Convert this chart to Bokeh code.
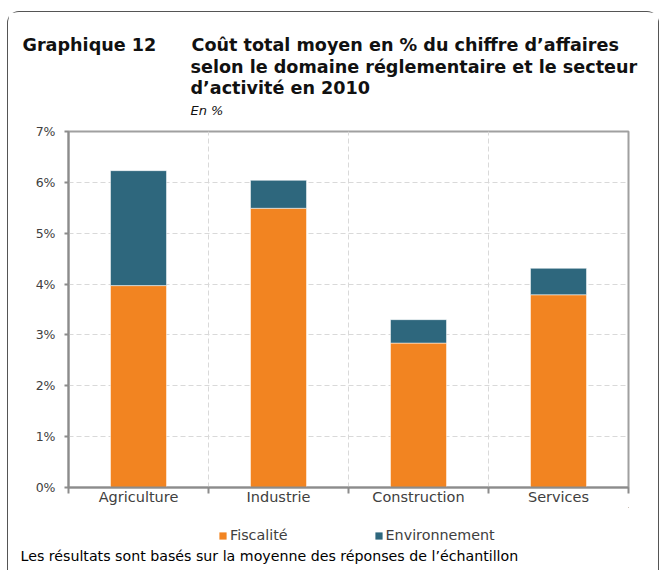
from bokeh.plotting import figure
from bokeh.layouts import column
from bokeh.models import (Range1d, FixedTicker, Legend, LegendItem, Title,
                          CustomJSTickFormatter)
from bokeh.embed import file_html
from bokeh.resources import INLINE

categories = ["Agriculture", "Industrie", "Construction", "Services"]
fiscalite = [3.97, 5.49, 2.84, 3.79]
environnement = [2.26, 0.55, 0.46, 0.52]
y_ticks = [0, 1, 2, 3, 4, 5, 6, 7]
series_names = ["Fiscalité", "Environnement"]
colors = ["#F28421", "#2E677D"]

FONT = "DejaVu Sans"
AXIS_GRAY = "#8c8c8c"

xs = [i + 0.5 for i in range(len(categories))]
source = dict(x=xs, Fiscalite=fiscalite, Environnement=environnement)

# ---------------- main chart ----------------
p = figure(width=650, height=495, output_backend="svg", toolbar_location=None,
           x_range=Range1d(0, len(categories)), y_range=Range1d(0, 7),
           min_border_left=60, min_border_right=30, min_border_top=119,
           min_border_bottom=19)

p.vbar_stack(["Fiscalite", "Environnement"], x="x", width=0.4, source=source,
             color=colors, line_color="white", line_alpha=0.5, line_width=1)

xax = p.xaxis[0]
xax.ticker = FixedTicker(ticks=xs, minor_ticks=list(range(len(categories) + 1)))
xax.major_label_overrides = {x: c for x, c in zip(xs, categories)}
xax.major_tick_out = 0
xax.major_tick_in = 0
xax.minor_tick_out = 6
xax.minor_tick_in = 0
xax.minor_tick_line_color = AXIS_GRAY
xax.minor_tick_line_width = 2
xax.axis_line_color = AXIS_GRAY
xax.axis_line_width = 2
xax.major_label_text_font = FONT
xax.major_label_text_font_size = "14.5px"
xax.major_label_text_color = "#404040"
xax.major_label_standoff = -5

yax = p.yaxis[0]
yax.ticker = FixedTicker(ticks=y_ticks)
yax.formatter = CustomJSTickFormatter(code="return tick.toFixed(0) + '%';")
yax.major_tick_out = 4
yax.major_tick_in = 0
yax.minor_tick_out = 0
yax.minor_tick_in = 0
yax.major_tick_line_color = AXIS_GRAY
yax.major_tick_line_width = 2
yax.axis_line_color = AXIS_GRAY
yax.axis_line_width = 2
yax.major_label_text_font = FONT
yax.major_label_text_font_size = "12.5px"
yax.major_label_text_color = "#404040"
yax.major_label_standoff = 9

p.xgrid.ticker = FixedTicker(ticks=[1, 2, 3])
p.xgrid.grid_line_color = "#d9d9d9"
p.xgrid.grid_line_dash = "5 3"
p.ygrid.grid_line_color = "#d9d9d9"
p.ygrid.grid_line_dash = "5 3"

p.outline_line_color = "#a0a0a0"
p.outline_line_width = 2


def title(text, size, style, offset, standoff, color="#111111"):
    return Title(text=text, align="left", offset=offset, text_font=FONT,
                 text_font_size=size, text_font_style=style, text_color=color,
                 standoff=standoff)


# header (added from the frame outwards)
p.add_layout(title("En %", "13px", "italic", 122, 28), "above")
p.add_layout(title("d’activité en 2010", "17.6px", "bold", 122, -22), "above")
p.add_layout(title("selon le domaine réglementaire et le secteur", "17.6px", "bold", 122, 18.5),
             "above")
p.add_layout(title("Graphique 12\u2003\u2003Coût total moyen en % du chiffre d’affaires",
                   "17.6px", "bold", -46, -19.5), "above")

# ---------------- footer: legend + note ----------------
# the footer's ranges lie away from the data, so its key glyphs stay hidden and
# only serve the legend swatches
f = figure(width=650, height=63, output_backend="svg", toolbar_location=None,
           x_axis_type=None, y_axis_type=None, x_range=Range1d(-3, -2), y_range=Range1d(-3, -2),
           min_border_left=60, min_border_right=30, min_border_top=0, min_border_bottom=25)
f.outline_line_color = None
f.grid.visible = False

keys = []
for name, vals, c in zip(series_names, [fiscalite, environnement], colors):
    r = f.vbar(x=xs, top=vals, width=0.4, color=c, line_color=None)
    keys.append(LegendItem(label=name, renderers=[r], index=0))

legend = Legend(items=keys, orientation="horizontal", location=(150, 2),
                glyph_width=9, glyph_height=9, label_standoff=3, spacing=86,
                padding=0, margin=0, border_line_alpha=0, background_fill_alpha=0,
                label_text_font=FONT, label_text_font_size="14.3px",
                label_text_color="#404040")
f.add_layout(legend)
f.add_layout(title("Les résultats sont basés sur la moyenne des réponses de l’échantillon",
                   "14.2px", "normal", -48, 0, color="#000000"), "below")

layout = column(p, f, spacing=0,
                styles={"border-left": "1px solid #555", "border-top": "1px solid #555",
                        "border-right": "1px solid #555", "border-top-left-radius": "12px",
                        "border-top-right-radius": "12px", "margin-top": "11px",
                        "margin-left": "7px"})

open("out.html", "w").write(file_html(layout, INLINE))
